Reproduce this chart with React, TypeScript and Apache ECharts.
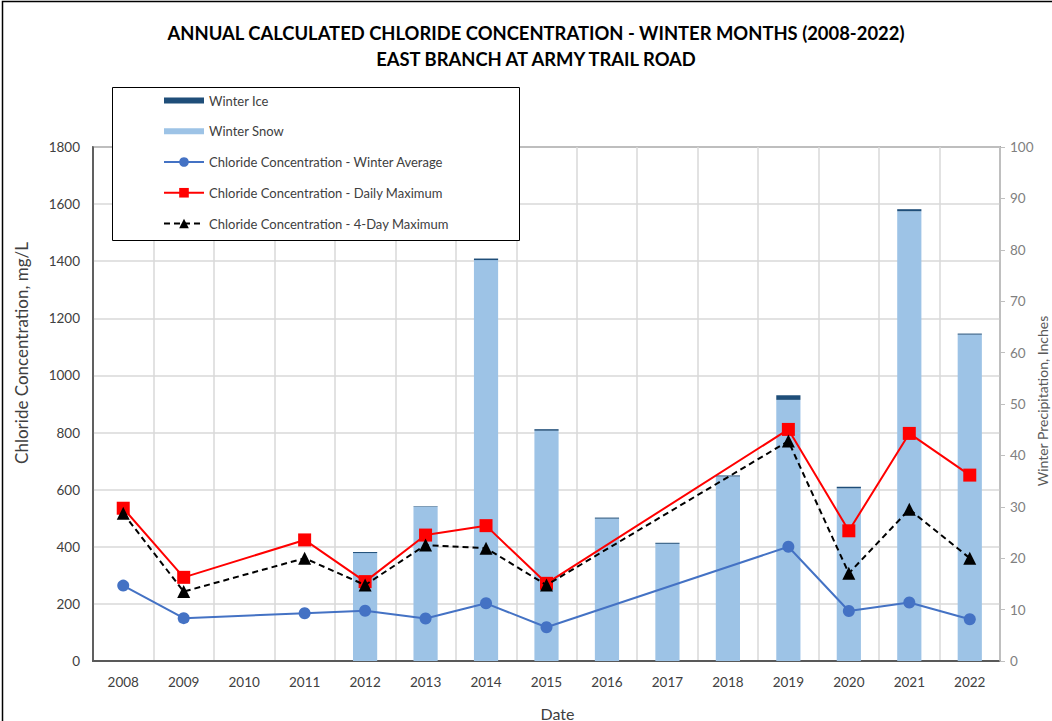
import React, { useEffect, useRef } from "react";
import * as echarts from "echarts";

// ---- data ----
const years = ["2008", "2009", "2010", "2011", "2012", "2013", "2014", "2015", "2016", "2017", "2018", "2019", "2020", "2021", "2022"];
// Winter precipitation, inches (right axis)
const winterSnow = [null, null, null, null, 21.0, 30.0, 78.0, 44.8, 27.7, 22.8, 35.9, 50.8, 33.6, 87.5, 63.5];
const winterIce = [null, null, null, null, 0.2, 0.1, 0.3, 0.3, 0.2, 0.2, 0.2, 0.9, 0.3, 0.4, 0.2];
// Chloride concentration, mg/L (left axis)
const winterAverage = [264, 150, null, 167, 176, 149, 202, 118, null, null, null, 400, 175, 205, 146];
const dailyMaximum = [535, 293, null, 424, 278, 441, 474, 272, null, null, null, 811, 456, 797, 651];
const fourDayMaximum = [517, 243, null, 360, 266, 406, 395, 266, null, null, null, 770, 307, 531, 360];
// axis ranges
const leftAxisMax = 1800;
const leftAxisStep = 200;
const rightAxisMax = 100;
const rightAxisStep = 10;

const titleText = "ANNUAL CALCULATED CHLORIDE CONCENTRATION - WINTER MONTHS (2008-2022)\nEAST BRANCH AT ARMY TRAIL ROAD";
const leftAxisName = "Chloride Concentration, mg/L";
const rightAxisName = "Winter Precipitation, Inches";
const FONT = "Lato, 'Noto Sans', sans-serif";

export default function App() {
  const ref = useRef<HTMLDivElement>(null);
  useEffect(() => {
    if (!ref.current) return;
    const chart = echarts.init(ref.current, undefined, { renderer: "svg" });
    chart.setOption({
      animation: false,
      backgroundColor: "#ffffff",
      textStyle: { fontFamily: FONT },
      title: {
        text: titleText,
        left: 531,
        top: 15,
        textAlign: "center",
        textStyle: { fontFamily: FONT, fontSize: 18.4, fontWeight: "bold", color: "#000000", lineHeight: 26 },
      },
      graphic: [
        {
          type: "rect",
          z: 10,
          silent: true,
          shape: { x: 2.5, y: 1.5, width: 1200, height: 1000 },
          style: { fill: "none", stroke: "#000000", lineWidth: 1.5 },
        },
        {
          type: "rect",
          z: 3,
          silent: true,
          shape: { x: 112.5, y: 87.5, width: 407, height: 153 },
          style: { fill: "#ffffff", stroke: "#000000", lineWidth: 1 },
        },
        {
          type: "text",
          z: 5,
          silent: true,
          x: 21,
          y: 353,
          rotation: Math.PI / 2,
          style: {
            text: leftAxisName,
            fontFamily: FONT,
            fontSize: 17,
            fill: "#404040",
            align: "center",
            verticalAlign: "middle",
          },
        },
        {
          type: "text",
          z: 5,
          silent: true,
          x: 1042,
          y: 401,
          rotation: Math.PI / 2,
          style: {
            text: rightAxisName,
            fontFamily: FONT,
            fontSize: 14,
            fill: "#595959",
            align: "center",
            verticalAlign: "middle",
          },
        },
      ],
      legend: {
        orient: "vertical",
        left: 163,
        top: 94,
        padding: 0,
        itemGap: 17.75,
        itemWidth: 40,
        itemHeight: 12,
        z: 4,
        textStyle: { fontFamily: FONT, fontSize: 13, color: "#404040" },
        data: [
          { name: "Winter Ice", icon: "path://M0,0 L40,0 L40,6 L0,6 Z" },
          { name: "Winter Snow", icon: "path://M0,0 L40,0 L40,6 L0,6 Z" },
          { name: "Chloride Concentration - Winter Average" },
          { name: "Chloride Concentration - Daily Maximum" },
          { name: "Chloride Concentration - 4-Day Maximum" },
        ],
      },
      grid: {
        left: 93,
        right: 52,
        top: 147,
        bottom: 60,
        outerBoundsMode: "none",
        containLabel: false,
        show: true,
        borderColor: "#404040",
        borderWidth: 1.5,
      },
      xAxis: {
        type: "category",
        data: years,
        boundaryGap: true,
        name: "Date",
        nameLocation: "middle",
        nameGap: 44,
        nameTextStyle: { fontFamily: FONT, fontSize: 16, color: "#404040", padding: [0, 0, 0, 22] },
        axisLine: { show: true, lineStyle: { color: "#595959", width: 2 } },
        axisTick: { show: false },
        axisLabel: { fontFamily: FONT, fontSize: 13.5, color: "#404040", margin: 14, interval: 0 },
        splitLine: { show: true, interval: 0, lineStyle: { color: "#D9D9D9", width: 1.5 } },
      },
      yAxis: [
        {
          type: "value",
          min: 0,
          max: leftAxisMax,
          interval: leftAxisStep,
          position: "left",
          axisLine: { show: true, lineStyle: { color: "#404040", width: 1.5 } },
          axisTick: { show: false },
          axisLabel: {
            fontFamily: FONT,
            fontSize: 13.5,
            color: "#404040",
            margin: 13,
            formatter: (v: number) => String(v),
          },
          splitLine: { show: true, lineStyle: { color: "#D9D9D9", width: 1.5 } },
        },
        {
          type: "value",
          min: 0,
          max: rightAxisMax,
          interval: rightAxisStep,
          position: "right",
          z: 5,
          axisLine: { show: true, lineStyle: { color: "#BFBFBF", width: 1.5 } },
          axisTick: { show: true, inside: false, length: 5, lineStyle: { color: "#BFBFBF" } },
          axisLabel: { fontFamily: FONT, fontSize: 13.5, color: "#808080", margin: 10, formatter: (v: number) => String(v) },
          splitLine: { show: false },
        },
      ],
      series: [
        {
          name: "Winter Snow",
          type: "bar",
          yAxisIndex: 1,
          stack: "precip",
          barWidth: "40%",
          data: winterSnow,
          itemStyle: { color: "#9DC3E6" },
          z: 1,
        },
        {
          name: "Winter Ice",
          type: "bar",
          yAxisIndex: 1,
          stack: "precip",
          barWidth: "40%",
          data: winterIce,
          itemStyle: { color: "#1F4E79" },
          z: 1,
        },
        {
          name: "Chloride Concentration - Winter Average",
          type: "line",
          yAxisIndex: 0,
          data: winterAverage,
          connectNulls: true,
          symbol: "circle",
          symbolSize: 12,
          itemStyle: { color: "#4472C4" },
          lineStyle: { color: "#4472C4", width: 2 },
          z: 3,
        },
        {
          name: "Chloride Concentration - Daily Maximum",
          type: "line",
          yAxisIndex: 0,
          data: dailyMaximum,
          connectNulls: true,
          symbol: "rect",
          symbolSize: 13,
          itemStyle: { color: "#FF0000" },
          lineStyle: { color: "#FF0000", width: 2 },
          z: 4,
        },
        {
          name: "Chloride Concentration - 4-Day Maximum",
          type: "line",
          yAxisIndex: 0,
          data: fourDayMaximum,
          connectNulls: true,
          symbol: "triangle",
          symbolSize: 13,
          itemStyle: { color: "#000000" },
          lineStyle: { color: "#000000", width: 2, type: [6, 4] },
          z: 5,
        },
      ],
    });
    return () => chart.dispose();
  }, []);
  return (
    <div
      ref={ref}
      style={{ position: "absolute", left: 0, top: 0, width: 1052, height: 721 }}
    />
  );
}
